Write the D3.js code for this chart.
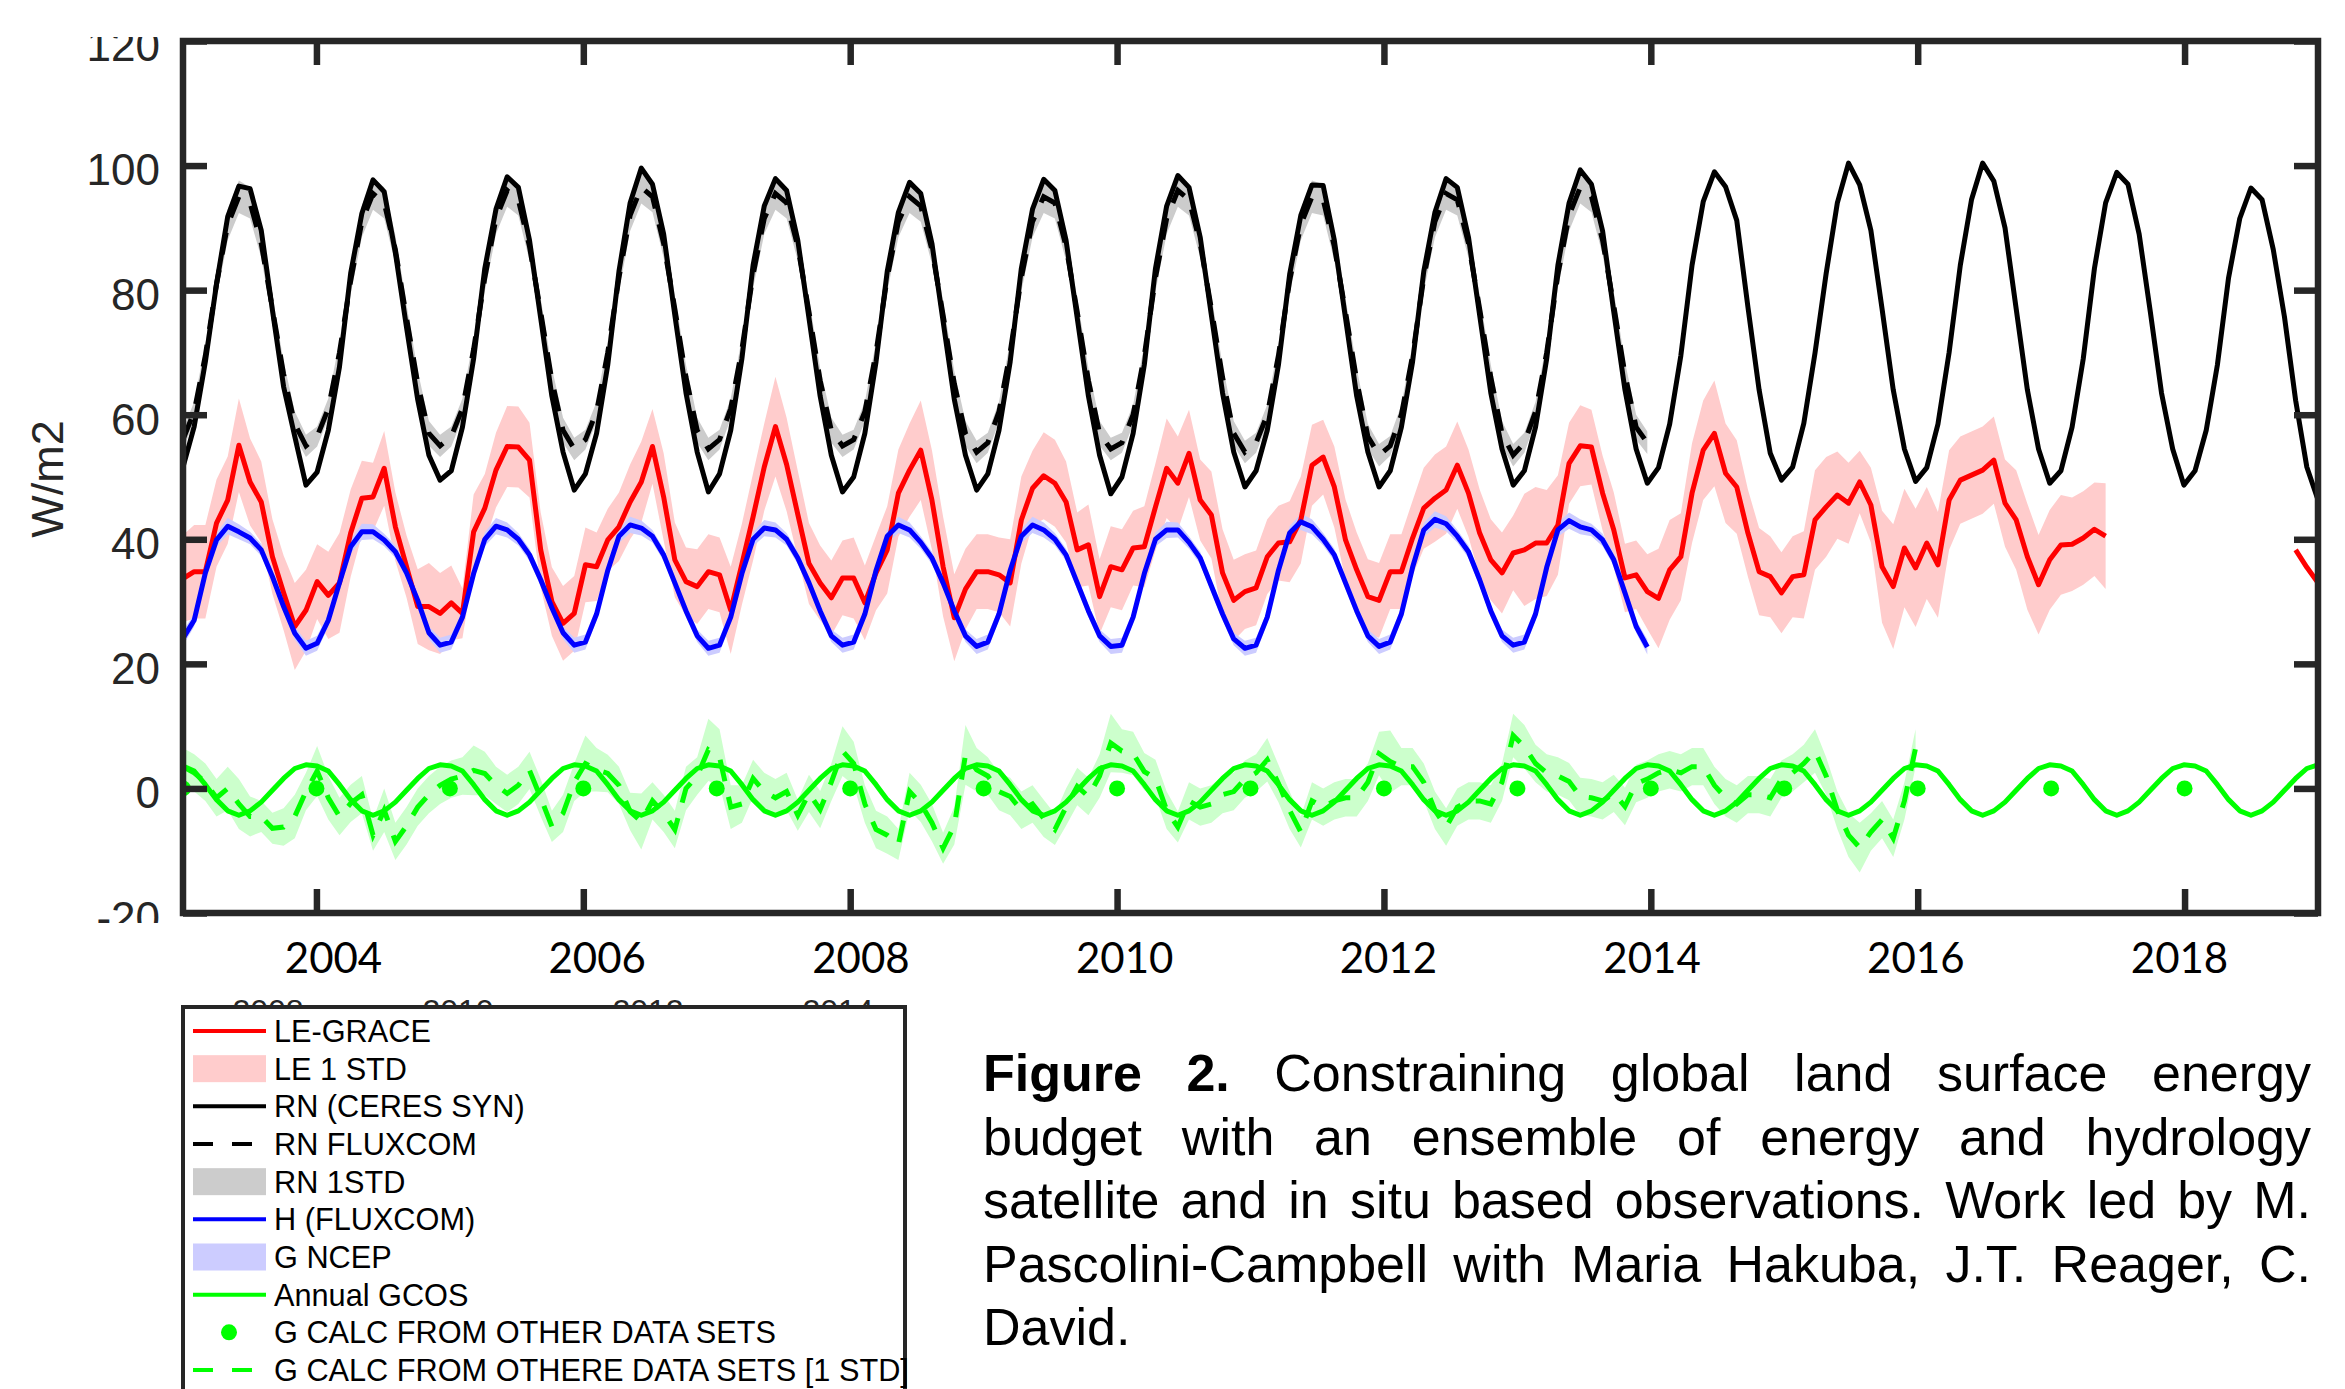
<!DOCTYPE html>
<html><head><meta charset="utf-8">
<script src="https://cdn.jsdelivr.net/npm/d3@7"></script>
<style>html,body{margin:0;padding:0;background:#fff;} svg{display:block;}</style>
</head><body>
<svg id="chart" width="2345" height="1389"></svg>
<script>
// ---------------- DATA ----------------
const startYear = 2003, endYear = 2019;   // monthly series Jan 2003 .. Dec 2018 drawn over [2003, 2019]
const yTickValues = [-20, 0, 20, 40, 60, 80, 100, 120];
const yTickLabels = ["-20", "0", "20", "40", "60", "80", "100", "120"];
const xTickValues = [2004, 2006, 2008, 2010, 2012, 2014, 2016, 2018];
const xTickLabels = ["2004", "2006", "2008", "2010", "2012", "2014", "2016", "2018"];
const hiddenTickValues = [2008, 2010, 2012, 2014];
const hiddenTickLabels = ["2008", "2010", "2012", "2014"];
const yAxisTitle = "W/m2";
const legendLabels = ["LE-GRACE", "LE 1 STD", "RN (CERES SYN)", "RN FLUXCOM", "RN 1STD", "H (FLUXCOM)", "G NCEP", "Annual GCOS", "G CALC FROM OTHER DATA SETS", "G CALC FROM OTHERE DATA SETS [1 STD]"];
const captionLines = [
  "Figure 2. Constraining global land surface energy",
  "budget with an ensemble of energy and hydrology",
  "satellite and in situ based observations. Work led by M.",
  "Pascolini-Campbell with Maria Hakuba, J.T. Reager, C.",
  "David."
];

// RN (CERES SYN), monthly Jan 2003 - Dec 2018
const rnCeres = [
  51.6, 58.1, 68.5, 81.0, 91.8, 96.7, 96.3, 89.6, 76.8, 64.5, 56.5, 48.7,
  50.8, 57.5, 67.7, 82.7, 92.3, 97.7, 95.8, 86.0, 74.0, 62.4, 53.5, 49.5,
  51.0, 58.0, 69.0, 83.5, 93.0, 98.2, 96.5, 88.0, 75.5, 63.0, 54.0, 47.9,
  50.5, 57.0, 68.0, 83.0, 94.0, 99.6, 97.0, 89.0, 76.0, 63.5, 54.0, 47.6,
  50.5, 57.5, 69.0, 84.0, 93.5, 97.9, 96.0, 88.0, 75.5, 63.0, 53.5, 47.6,
  50.0, 57.0, 68.5, 83.0, 92.5, 97.3, 95.5, 87.5, 75.0, 62.5, 53.5, 47.9,
  50.5, 57.5, 68.5, 83.5, 93.0, 97.8, 96.0, 88.0, 75.5, 63.0, 53.5, 47.3,
  50.0, 57.0, 68.0, 83.5, 93.5, 98.4, 96.5, 88.5, 76.0, 63.5, 54.0, 48.4,
  51.0, 57.5, 68.0, 82.5, 92.0, 96.9, 96.8, 88.0, 75.5, 63.0, 54.0, 48.4,
  51.0, 58.0, 68.5, 83.0, 92.5, 97.9, 96.5, 88.5, 76.0, 63.5, 54.5, 48.7,
  51.0, 58.0, 69.0, 84.0, 94.0, 99.3, 97.0, 89.5, 76.5, 64.0, 54.5, 49.0,
  51.5, 58.5, 69.5, 84.0, 94.2, 99.0, 96.6, 91.2, 77.3, 64.0, 53.8, 49.5,
  51.6, 58.6, 69.9, 82.7, 94.0, 100.4, 96.9, 89.6, 77.0, 64.0, 54.5, 49.3,
  51.5, 58.5, 70.0, 84.0, 94.5, 100.4, 97.5, 90.0, 77.0, 64.0, 54.5, 49.0,
  51.0, 58.0, 69.0, 83.5, 94.0, 98.9, 97.0, 89.0, 76.5, 63.5, 54.5, 48.7,
  51.0, 57.5, 68.0, 82.0, 91.5, 96.4, 94.5, 86.5, 75.7, 62.3, 51.6, 46.3
];
// RN FLUXCOM, Jan 2003 - Dec 2013
const rnFluxcom = [
  56.0, 60.5, 69.5, 81.0, 90.5, 95.0, 94.0, 87.5, 77.0, 66.5, 58.5, 55.0,
  56.5, 61.0, 70.0, 81.5, 91.0, 95.5, 94.0, 86.5, 75.5, 65.0, 57.0, 55.0,
  56.5, 61.0, 70.5, 82.0, 91.5, 96.0, 94.5, 87.0, 76.5, 65.5, 57.5, 54.5,
  56.0, 60.5, 70.0, 82.0, 92.0, 96.5, 95.0, 87.5, 77.0, 66.0, 57.5, 54.5,
  56.0, 61.0, 70.5, 82.5, 91.5, 95.5, 94.0, 87.0, 76.5, 65.5, 57.5, 55.0,
  56.0, 60.5, 70.0, 82.0, 91.0, 95.0, 93.5, 86.5, 76.0, 65.0, 57.0, 54.0,
  55.5, 60.5, 70.0, 82.0, 91.0, 95.0, 94.0, 87.0, 76.5, 65.5, 57.0, 54.5,
  55.5, 60.0, 69.5, 82.0, 91.5, 96.0, 94.5, 87.5, 77.0, 66.0, 57.0, 54.0,
  55.5, 60.0, 69.5, 81.5, 90.5, 95.0, 94.5, 87.0, 76.5, 65.5, 56.5, 53.5,
  55.0, 60.0, 69.5, 82.0, 91.0, 95.5, 94.5, 87.5, 77.0, 66.0, 57.0, 53.5,
  55.5, 60.5, 70.0, 82.5, 92.0, 96.5, 95.0, 88.0, 77.5, 66.5, 58.0, 55.5
];
// RN 1 STD by calendar month
const rnStdByMonth = [1.6, 1.6, 1.8, 2.2, 2.5, 2.6, 2.5, 2.3, 2.2, 2.0, 2.0, 1.8];

// LE-GRACE, Jan 2003 - Dec 2018 (null = no data)
const leGrace = [
  33.7, 34.8, 34.8, 42.6, 46.3, 55.1, 49.2, 46.0, 37.2, 31.4, 26.0, 28.6,
  33.2, 31.0, 33.0, 41.0, 46.6, 46.8, 51.4, 42.0, 35.6, 29.2, 29.2, 28.1,
  29.8, 28.1, 41.2, 45.0, 51.1, 54.9, 54.8, 52.7, 38.3, 30.0, 26.5, 28.1,
  35.9, 35.6, 39.9, 42.0, 46.0, 49.2, 54.9, 46.8, 36.7, 33.2, 32.4, 34.8,
  34.3, 28.6, 36.0, 43.6, 51.6, 58.1, 52.0, 44.0, 36.1, 33.0, 30.6, 33.8,
  33.8, 29.8, 34.6, 38.3, 47.4, 51.1, 54.3, 46.3, 35.6, 27.4, 32.0, 34.8,
  34.8, 34.3, 33.0, 43.1, 48.2, 50.2, 49.0, 46.0, 38.3, 39.1, 30.8, 35.6,
  35.1, 38.6, 38.8, 45.2, 51.4, 49.0, 53.8, 46.3, 43.9, 34.6, 30.2, 31.6,
  32.2, 37.2, 39.4, 39.6, 43.1, 51.9, 53.2, 48.4, 39.9, 35.1, 30.8, 30.2,
  34.8, 34.8, 40.2, 45.0, 46.6, 47.9, 51.9, 47.4, 41.0, 36.7, 34.6, 37.8,
  38.3, 39.4, 39.4, 42.3, 52.2, 55.0, 54.8, 47.4, 41.5, 33.8, 34.3, 31.6,
  30.5, 35.1, 37.2, 47.4, 54.3, 57.0, 50.6, 48.4, 41.0, 34.8, 34.0, 31.4,
  34.0, 34.3, 43.1, 45.2, 47.1, 45.8, 49.2, 45.5, 35.6, 32.4, 38.6, 35.4,
  39.4, 35.9, 46.3, 49.5, 50.3, 51.1, 52.7, 45.8, 43.1, 37.2, 32.7, 36.7,
  39.1, 39.2, 40.2, 41.6, 40.5, null, null, null, null, null, null, null,
  null, null, null, null, null, null, null, null, null, 38.3, 35.5, 33.0
];
// LE 1 STD, Jan 2003 - May 2017
const leStd = [
  7, 7.5, 7.5, 7, 7, 7.5, 7, 6.5, 6, 6, 7, 6.5,
  6, 7, 8, 7, 6, 5.5, 6, 5.5, 5, 6, 7, 6.5,
  6, 4, 6, 5.5, 6, 6.5, 6.5, 6, 6, 5.5, 6, 6,
  6, 5.5, 5, 5.5, 6, 6.5, 6, 7, 6, 5.5, 6, 6,
  6, 7, 6.5, 7, 7, 8, 7.5, 7, 6.5, 6, 6, 6,
  6.5, 6, 6, 7, 7, 7.5, 8, 8, 8, 7, 6.5, 6,
  6, 6, 7, 7, 6, 7, 7, 6.5, 6, 6.5, 6, 6.5,
  6.5, 6, 6.5, 7, 8, 7.5, 7, 6.5, 7, 7, 6.5, 6,
  6, 6, 6, 6.5, 7, 6.5, 6, 6.5, 6.5, 6, 6, 6,
  6, 6, 6, 6.5, 7, 7, 7, 7, 7, 6.5, 6.5, 6,
  9, 9, 8.5, 8, 6.5, 6.5, 6, 6, 6, 5.5, 5.5, 6,
  8, 8, 7, 8, 8, 8.5, 8, 7.5, 7, 7, 6.5, 6.5,
  6.5, 7, 8, 8, 7, 6.5, 5, 6, 9, 10, 9.5, 9.5,
  9, 8.5, 8, 7, 7, 7, 7, 7, 8, 8.5, 8, 8,
  8, 7.5, 7.5, 7.5, 8.5
];
// H (FLUXCOM), Jan 2003 - Dec 2013
const hFluxcom = [
  24.1, 27.0, 34.6, 39.9, 42.1, 41.2, 40.2, 38.3, 34.0, 29.2, 24.9, 22.5,
  23.3, 27.0, 33.0, 38.8, 41.2, 41.2, 39.9, 38.0, 34.6, 30.2, 25.0, 23.0,
  23.5, 27.5, 34.5, 40.0, 42.1, 41.5, 40.0, 37.5, 33.5, 29.0, 25.0, 23.0,
  23.5, 28.0, 35.0, 40.5, 42.3, 41.8, 40.5, 37.5, 33.0, 28.5, 24.5, 22.5,
  23.0, 27.5, 34.5, 40.0, 41.8, 41.5, 40.0, 37.0, 33.0, 28.5, 24.5, 23.0,
  23.5, 28.0, 35.0, 40.5, 42.3, 41.5, 39.5, 37.0, 33.0, 28.5, 24.5, 22.8,
  23.5, 28.0, 35.0, 40.5, 42.3, 41.5, 40.0, 37.5, 33.0, 28.5, 24.5, 22.8,
  23.0, 27.5, 34.5, 40.0, 41.5, 41.5, 39.5, 37.0, 32.5, 28.0, 24.0, 22.5,
  23.0, 27.5, 35.0, 41.0, 42.8, 42.0, 40.0, 37.5, 33.0, 28.5, 24.5, 22.8,
  23.5, 28.0, 35.5, 41.5, 43.2, 42.5, 40.5, 38.0, 33.5, 28.5, 24.5, 23.0,
  23.5, 28.0, 35.5, 41.5, 43.0, 42.0, 41.5, 39.9, 36.7, 31.4, 26.0, 22.7
];
// G NCEP band half-width by calendar month
const gNcepByMonth = [1.2, 1.0, 1.0, 1.1, 1.3, 1.2, 1.0, 1.0, 1.0, 1.0, 1.0, 1.2];
// Annual GCOS cycle (repeated every year)
const gcosAnnual = [3.6, 2.8, 0.6, -1.8, -3.6, -4.3, -3.6, -2.2, -0.3, 1.6, 3.2, 3.8];
// G CALC (annual points)
const gCalcYears = [2003, 2004, 2005, 2006, 2007, 2008, 2009, 2010, 2011, 2012, 2013, 2014, 2015, 2016, 2017, 2018];
const gCalcAnnual = [0, 0, 0, 0, 0, 0, 0, 0, 0, 0, 0, 0, 0, 0, 0, 0];
// G CALC monthly, Jan 2003 - Dec 2015
const gCalcMonthly = [
  3.5, 2.5, 1.0, -1.5, 0.0, -2.5, -4.5, -4.5, -6.4, -6.2, -4.5, -0.5,
  2.8, -1.5, -4.5, -2.4, -1.0, -7.5, -3.5, -8.5, -6.0, -3.0, -1.0, 0.5,
  1.5, 2.0, 2.9, 2.4, 0.5, -0.8, 0.5, 2.9, -1.5, -6.1, -4.0, 1.0,
  4.0, 3.0, 2.4, 0.5, -3.7, -5.3, -2.0, -4.0, -6.6, 0.0, 2.0, 6.2,
  5.0, -3.0, -2.5, 1.6, -0.5, -1.5, -0.5, -4.3, -0.8, -3.4, 1.0, 6.0,
  4.0, -2.5, -6.6, -7.5, -9.0, -0.5, -2.4, -5.5, -9.6, -6.0, 5.4, 3.0,
  2.0, -0.5, -1.3, -3.5, -2.5, -4.8, -6.6, -3.0, 0.3, -1.3, 2.0, 7.3,
  6.0, 5.6, 2.7, 1.6, -3.5, -6.2, -2.0, -3.0, -2.5, -1.0, -0.5, 1.5,
  2.5, 4.6, 0.8, -3.5, -7.0, -2.0, -3.0, -2.0, -1.5, -1.5, 1.0, 5.6,
  4.3, 3.5, 3.5, 1.0, -3.5, -6.2, -3.0, -2.0, -2.0, -2.5, 1.0, 8.5,
  6.7, 4.0, 2.5, 2.0, 1.1, -1.3, -1.5, -2.0, -0.8, -2.9, 0.8, 1.5,
  2.5, 3.0, 2.5, 3.5, 3.5, 0.5, -1.5, -2.5, -1.0, -1.0, -1.5, 1.5,
  2.5, 4.0, 6.0, 2.0, -3.5, -7.5, -9.5, -7.0, -5.0, -8.0, -2.0, 6.5
];
// G CALC 1 STD, Jan 2003 - Dec 2015
const gCalcStd = [
  3, 3, 3, 3, 3.5, 4, 3.2, 2.5, 2.5, 3, 3.5, 3,
  4, 3.5, 3, 3, 3, 2.5, 3.5, 3, 3, 3, 3, 3,
  3, 3, 4, 3.5, 3, 3, 3, 3, 3, 2.5, 3, 3,
  4.5, 3.5, 3, 3, 3, 4.5, 3, 3, 3, 3.5, 3, 5,
  4.5, 3.5, 3, 3, 3, 3, 3, 2.5, 3, 3, 3, 4,
  3.5, 3, 3, 3, 2.5, 3, 3, 3, 2.5, 3, 4.8, 3.5,
  3, 3, 3, 3, 3, 3, 2.5, 3, 3, 3, 3.5, 4.7,
  3.5, 3.5, 3, 3, 3, 2.5, 3, 3, 3, 3, 3, 3,
  3, 3.5, 3, 3, 2.5, 3, 3, 3, 3, 3, 3, 3.5,
  5, 3, 3, 3, 3, 3, 3, 3, 3, 3, 3, 3.5,
  3.5, 3, 3, 3, 3, 3, 3, 3, 3, 3, 3, 3,
  3, 3, 3, 3, 3, 3, 3, 3, 3, 3, 3, 3,
  3, 3, 3.5, 3, 3, 3.5, 4, 3, 3, 3, 3, 3
];

// ---------------- CHART ----------------
const svg = d3.select('#chart');
const FONT = "'Liberation Sans', Arial, Helvetica, sans-serif";
const plot = {left: 183, right: 2318, top: 41, bottom: 913};
const x = d3.scaleLinear().domain([startYear, endYear]).range([plot.left, plot.right]);
const y = d3.scaleLinear().domain([-20, 120]).range([plot.bottom, plot.top]);
const monthX = d3.scaleLinear().domain([0, 191]).range([startYear, endYear]);
// the printed year labels sit slightly off the tick marks in the original
const labelX = d3.scaleLinear().domain([2004, 2018]).range([333, 2179]);
const hiddenLabelX = d3.scaleLinear().domain([2008, 2014]).range([268, 838]);

const defs = svg.append('defs');
defs.append('clipPath').attr('id', 'plotClip').append('rect')
  .attr('x', plot.left).attr('y', plot.top).attr('width', plot.right - plot.left).attr('height', plot.bottom - plot.top);
defs.append('clipPath').attr('id', 'ylabClip').append('rect')
  .attr('x', -300).attr('y', 37).attr('width', 400).attr('height', 886);
defs.append('clipPath').attr('id', 'hiddenClip').append('rect')
  .attr('x', 0).attr('y', 980).attr('width', 1000).attr('height', 26);

const series = (vals, sd) => vals.map((v, i) => ({t: monthX(i), v: v, s: sd ? sd(i) : null}));
const lineGen = d3.line().defined(d => d.v != null).x(d => x(d.t)).y(d => y(d.v));
const bandGen = d3.area().defined(d => d.v != null && d.s != null)
  .x(d => x(d.t)).y0(d => y(d.v - d.s)).y1(d => y(d.v + d.s));

const le = series(leGrace, i => (i < leStd.length ? leStd[i] : null));
const rnC = series(rnCeres);
const rnF = series(rnFluxcom, i => rnStdByMonth[i % 12]);
const hF = series(hFluxcom, i => gNcepByMonth[i % 12]);
const gcos = series(d3.range(rnCeres.length).map(i => gcosAnnual[i % 12]));
const gCalc = series(gCalcMonthly, i => gCalcStd[i]);

const data = svg.append('g').attr('clip-path', 'url(#plotClip)');
// bands
data.append('path').attr('d', bandGen(le)).attr('fill', '#ffcccc');
data.append('path').attr('d', bandGen(rnF)).attr('fill', '#cccccc');
data.append('path').attr('d', bandGen(gCalc)).attr('fill', '#ccffcc');
data.append('path').attr('d', bandGen(hF)).attr('fill', '#ccccff');
// lines
const lw = 5;
data.append('path').attr('d', lineGen(le)).attr('fill', 'none').attr('stroke', '#ff0000').attr('stroke-width', lw).attr('stroke-linejoin', 'round');
data.append('path').attr('d', lineGen(rnC)).attr('fill', 'none').attr('stroke', '#000').attr('stroke-width', lw).attr('stroke-linejoin', 'round');
data.append('path').attr('d', lineGen(rnF)).attr('fill', 'none').attr('stroke', '#000').attr('stroke-width', lw).attr('stroke-dasharray', '22,16');
data.append('path').attr('d', lineGen(hF)).attr('fill', 'none').attr('stroke', '#0000ff').attr('stroke-width', lw).attr('stroke-linejoin', 'round');
data.append('path').attr('d', lineGen(gcos)).attr('fill', 'none').attr('stroke', '#00ff00').attr('stroke-width', lw).attr('stroke-linejoin', 'round');
data.append('path').attr('d', lineGen(gCalc)).attr('fill', 'none').attr('stroke', '#00ff00').attr('stroke-width', lw).attr('stroke-dasharray', '22,16');
data.selectAll('circle.gcalc').data(gCalcYears).join('circle').attr('class', 'gcalc')
  .attr('cx', d => x(d)).attr('cy', (d, i) => y(gCalcAnnual[i])).attr('r', 8).attr('fill', '#00ff00');

// axes
const axisColor = '#262626';
function styleTicks(g) {
  g.select('.domain').remove();
  g.selectAll('.tick line').attr('stroke', axisColor).attr('stroke-width', 6.5);
}
const gl = svg.append('g').attr('transform', `translate(${plot.left},0)`)
  .attr('clip-path', 'url(#ylabClip)')
  .call(d3.axisLeft(y).tickValues(yTickValues).tickSize(-24).tickPadding(23)
    .tickFormat((d, i) => yTickLabels[i]));
styleTicks(gl);
gl.attr('font-family', FONT).attr('font-size', 44);
gl.selectAll('.tick text').attr('fill', axisColor).attr('dy', '0.44em');
const gr = svg.append('g').attr('transform', `translate(${plot.right},0)`)
  .call(d3.axisRight(y).tickValues(yTickValues).tickSize(-24).tickFormat(''));
styleTicks(gr);
const gb = svg.append('g').attr('transform', `translate(0,${plot.bottom})`)
  .call(d3.axisBottom(x).tickValues(xTickValues).tickSize(-24).tickFormat(''));
styleTicks(gb);
const gt = svg.append('g').attr('transform', `translate(0,${plot.top})`)
  .call(d3.axisTop(x).tickValues(xTickValues).tickSize(-24).tickFormat(''));
styleTicks(gt);
svg.append('rect').attr('x', plot.left).attr('y', plot.top)
  .attr('width', plot.right - plot.left).attr('height', plot.bottom - plot.top)
  .attr('fill', 'none').attr('stroke', axisColor).attr('stroke-width', 6.5);

// year labels
const gxl = svg.append('g').attr('transform', `translate(0,${plot.bottom})`)
  .call(d3.axisBottom(labelX).tickValues(xTickValues).tickSize(0).tickPadding(30).tickFormat((d, i) => xTickLabels[i]));
gxl.select('.domain').remove();
gxl.attr('font-family', "Lato, 'Open Sans', sans-serif").attr('font-size', 42);
gxl.selectAll('.tick text').attr('fill', '#000');

// y title
svg.append('text').attr('transform', 'translate(63,479) rotate(-90)')
  .attr('text-anchor', 'middle').attr('font-family', FONT).attr('font-size', 45)
  .attr('fill', axisColor).text(yAxisTitle);

// older year labels peeking out above the legend box
svg.append('g').attr('clip-path', 'url(#hiddenClip)').selectAll('text').data(hiddenTickValues).join('text')
  .attr('x', d => hiddenLabelX(d)).attr('y', 1022).attr('text-anchor', 'middle')
  .attr('font-family', FONT).attr('font-size', 32).attr('fill', axisColor)
  .text((d, i) => hiddenTickLabels[i]);

// legend
const lg = svg.append('g');
lg.append('rect').attr('x', 183).attr('y', 1007).attr('width', 722).attr('height', 420)
  .attr('fill', '#fff').attr('stroke', axisColor).attr('stroke-width', 4);
const legendSpec = [
  {type: 'line', color: '#ff0000'},
  {type: 'rect', color: '#ffcccc'},
  {type: 'line', color: '#000'},
  {type: 'dash', color: '#000'},
  {type: 'rect', color: '#cccccc'},
  {type: 'line', color: '#0000ff'},
  {type: 'rect', color: '#ccccff'},
  {type: 'line', color: '#00ff00'},
  {type: 'dot', color: '#00ff00'},
  {type: 'dash', color: '#00ff00'}
];
const legY = d3.scaleLinear().domain([0, 9]).range([1031, 1370]);
legendSpec.forEach((s, i) => {
  const cy = legY(i);
  if (s.type === 'line' || s.type === 'dash') {
    lg.append('line').attr('x1', 193).attr('x2', 266).attr('y1', cy).attr('y2', cy)
      .attr('stroke', s.color).attr('stroke-width', 4)
      .attr('stroke-dasharray', s.type === 'dash' ? '20,19' : null);
  } else if (s.type === 'rect') {
    lg.append('rect').attr('x', 193).attr('y', cy - 13.5).attr('width', 73).attr('height', 27).attr('fill', s.color);
  } else {
    lg.append('circle').attr('cx', 229).attr('cy', cy).attr('r', 8).attr('fill', s.color);
  }
  lg.append('text').attr('x', 274).attr('y', cy + 11).attr('font-family', FONT).attr('font-size', 30.7)
    .attr('fill', '#000').text(legendLabels[i]);
});

// caption (justified)
const capLeft = 983, capRight = 2311, capFont = 52;
const capBase = d3.scaleLinear().domain([0, 4]).range([1091, 1345]);
const cg = svg.append('g');
captionLines.forEach((line, li) => {
  const words = line.split(' ');
  const nodes = words.map((w, wi) => cg.append('text')
    .attr('y', capBase(li)).attr('font-family', FONT).attr('font-size', capFont)
    .attr('font-weight', (li === 0 && wi < 2) ? 'bold' : 'normal').attr('fill', '#000').text(w));
  const widths = nodes.map(n => n.node().getComputedTextLength());
  const total = d3.sum(widths);
  const justify = li < captionLines.length - 1 && words.length > 1;
  const gap = justify ? (capRight - capLeft - total) / (words.length - 1) : capFont * 0.278;
  let xp = capLeft;
  nodes.forEach((n, i) => { n.attr('x', xp); xp += widths[i] + gap; });
});
</script>
</body></html>
